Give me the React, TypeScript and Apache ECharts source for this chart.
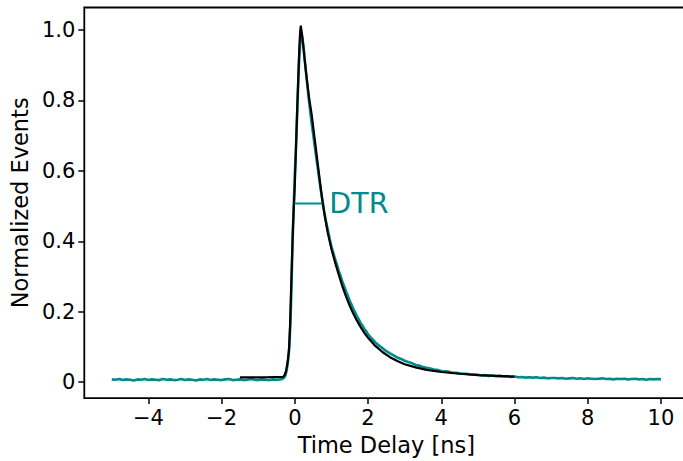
import React, { useEffect, useRef } from "react";
import * as echarts from "echarts";

// Measured timing histogram (time in ns, normalized events)
const measuredTime: number[] = [
  -5.0, -4.9, -4.8, -4.7, -4.6, -4.5, -4.4, -4.3, -4.2, -4.1, -4.0, -3.9, -3.8, -3.7, -3.6, -3.5,
  -3.4, -3.3, -3.2, -3.1, -3.0, -2.9, -2.8, -2.7, -2.6, -2.5, -2.4, -2.3, -2.2, -2.1, -2.0, -1.9,
  -1.8, -1.7, -1.6, -1.5, -1.4, -1.3, -1.2, -1.1, -1.0, -0.9, -0.8, -0.7, -0.6, -0.5, -0.4,
  -0.35, -0.3, -0.26, -0.22, -0.18, -0.15, -0.12, -0.1, -0.07, -0.05, -0.02, 0.0, 0.03, 0.06,
  0.09, 0.12, 0.15, 0.18, 0.21, 0.24, 0.27, 0.3, 0.34, 0.38, 0.42, 0.46, 0.5, 0.55, 0.6, 0.65,
  0.7, 0.75, 0.8, 0.85, 0.9, 0.95, 1.0, 1.05, 1.1, 1.15, 1.2, 1.25, 1.3, 1.35, 1.4, 1.45, 1.5,
  1.55, 1.6, 1.65, 1.7, 1.75, 1.8, 1.85, 1.9, 1.95, 2.0, 2.1, 2.2, 2.3, 2.4, 2.5, 2.6, 2.7, 2.8,
  2.9, 3.0, 3.1, 3.2, 3.3, 3.4, 3.5, 3.6, 3.7, 3.8, 3.9, 4.0, 4.1, 4.2, 4.3, 4.4, 4.5, 4.6, 4.7,
  4.8, 4.9, 5.0, 5.1, 5.2, 5.3, 5.4, 5.5, 5.6, 5.7, 5.8, 5.9, 6.0, 6.1, 6.2, 6.3, 6.4, 6.5, 6.6,
  6.7, 6.8, 6.9, 7.0, 7.1, 7.2, 7.3, 7.4, 7.5, 7.6, 7.7, 7.8, 7.9, 8.0, 8.1, 8.2, 8.3, 8.4, 8.5,
  8.6, 8.7, 8.8, 8.9, 9.0, 9.1, 9.2, 9.3, 9.4, 9.5, 9.6, 9.7, 9.8, 9.9, 10.0,
];
const measuredEvents: number[] = [
  0.008, 0.007, 0.009, 0.006, 0.008, 0.007, 0.005, 0.008, 0.007, 0.009, 0.006, 0.008, 0.007, 0.006, 0.009, 0.007,
  0.008, 0.006, 0.007, 0.009, 0.006, 0.008, 0.007, 0.005, 0.008, 0.007, 0.009, 0.006, 0.008, 0.007, 0.006, 0.008,
  0.009, 0.006, 0.007, 0.008, 0.006, 0.007, 0.009, 0.007, 0.006, 0.008, 0.007, 0.006, 0.008, 0.007, 0.008,
  0.009, 0.012, 0.018, 0.035, 0.065, 0.1, 0.17, 0.24, 0.36, 0.44, 0.53, 0.59, 0.66, 0.75,
  0.84, 0.92, 0.965, 0.985, 0.975, 0.95, 0.915, 0.885, 0.845, 0.805, 0.77, 0.735, 0.705, 0.665, 0.627, 0.59,
  0.552, 0.518, 0.486, 0.458, 0.433, 0.408, 0.385, 0.368, 0.349, 0.334, 0.316, 0.302, 0.285, 0.272, 0.257, 0.245, 0.231,
  0.22, 0.207, 0.198, 0.186, 0.178, 0.167, 0.16, 0.151, 0.145, 0.136, 0.124, 0.113, 0.104, 0.096, 0.088, 0.082, 0.076, 0.07,
  0.066, 0.061, 0.057, 0.054, 0.049, 0.047, 0.043, 0.041, 0.039, 0.036, 0.035, 0.032, 0.031, 0.03, 0.027, 0.027, 0.025, 0.024, 0.024,
  0.022, 0.022, 0.021, 0.019, 0.02, 0.018, 0.019, 0.017, 0.018, 0.016, 0.017, 0.015, 0.016, 0.014, 0.015, 0.013, 0.014, 0.013, 0.014,
  0.012, 0.013, 0.011, 0.012, 0.012, 0.011, 0.012, 0.01, 0.011, 0.012, 0.01, 0.011, 0.009, 0.011, 0.01, 0.009, 0.01, 0.011, 0.009,
  0.01, 0.008, 0.01, 0.009, 0.01, 0.008, 0.009, 0.01, 0.008, 0.009, 0.007, 0.009, 0.008, 0.009, 0.008,
];

// Fitted response curve
const fitTime: number[] = [
  -1.5, -0.8, -0.32, -0.28, -0.24, -0.2, -0.16, -0.13, -0.1, -0.06, -0.03, 0.0, 0.03, 0.065, 0.1,
  0.128, 0.15, 0.163, 0.2, 0.25, 0.3, 0.35, 0.4, 0.46, 0.5, 0.55, 0.6, 0.65, 0.7, 0.755, 0.82, 0.9,
  1.0, 1.1, 1.2, 1.3, 1.4, 1.5, 1.6, 1.7, 1.8, 1.9, 2.0, 2.2, 2.4, 2.6, 2.8, 3.0, 3.3, 3.6, 4.0,
  4.5, 5.0, 5.5, 6.0,
];
const fitEvents: number[] = [
  0.014, 0.014, 0.015, 0.02, 0.032, 0.055, 0.09, 0.16, 0.27, 0.41, 0.49, 0.56, 0.66, 0.775, 0.88,
  0.9625, 1.0, 1.012, 0.985, 0.935, 0.885, 0.84, 0.8, 0.76, 0.725, 0.684, 0.642, 0.6, 0.558, 0.514, 0.47, 0.424,
  0.378, 0.34, 0.305, 0.272, 0.243, 0.217, 0.194, 0.174, 0.156, 0.14, 0.126, 0.103, 0.085, 0.071, 0.06, 0.051, 0.042, 0.035, 0.029,
  0.024, 0.02, 0.018, 0.016,
];

// Half-maximum span marker
const dtrSpan: number[] = [-0.01, 0.75];
const dtrLevel = 0.507;

const xTicks: number[] = [-4, -2, 0, 2, 4, 6, 8, 10];
const yTicks: number[] = [0, 0.2, 0.4, 0.6, 0.8, 1.0];

const TEAL = "#008b8b";
const FONT = "DejaVu Sans";

export default function App() {
  const ref = useRef<HTMLDivElement>(null);

  useEffect(() => {
    if (!ref.current) return;
    const chart = echarts.init(ref.current, undefined, { renderer: "svg" });

    const measured = measuredTime.map((t, i) => [t, measuredEvents[i]]);
    const fit = fitTime.map((t, i) => [t, fitEvents[i]]);
    const dtr = dtrSpan.map((t) => [t, dtrLevel]);

    chart.setOption({
      animation: false,
      backgroundColor: "#ffffff",
      grid: {
        left: 81,
        top: 7.5,
        width: 607.4,
        height: 393.8,
        show: true,
        borderColor: "#000",
        borderWidth: 1.8,
        backgroundColor: "transparent",
      },
      xAxis: {
        type: "value",
        min: -5.75,
        max: 10.75,
        name: "Time Delay [ns]",
        nameLocation: "middle",
        nameGap: 33,
        nameTextStyle: { fontFamily: FONT, fontSize: 22.5, color: "#000" },
        axisLine: { show: false, onZero: false },
        splitLine: { show: false },
        axisTick: {
          show: true,
          length: 6,
          lineStyle: { color: "#000", width: 1.5 },
          customValues: xTicks,
        },
        axisLabel: {
          fontFamily: FONT,
          fontSize: 21,
          color: "#000",
          margin: 9,
          customValues: xTicks,
          formatter: (v: number) => (v < 0 ? "\u2212" + Math.abs(v) : String(v)),
        },
      },
      yAxis: {
        type: "value",
        min: -0.0451,
        max: 1.0634,
        name: "Normalized Events",
        nameLocation: "middle",
        nameGap: 39,
        nameTextStyle: { fontFamily: FONT, fontSize: 22.5, color: "#000" },
        axisLine: { show: false, onZero: false },
        splitLine: { show: false },
        axisTick: {
          show: true,
          length: 6,
          lineStyle: { color: "#000", width: 1.5 },
          customValues: yTicks,
        },
        axisLabel: {
          fontFamily: FONT,
          fontSize: 21,
          color: "#000",
          margin: 9,
          customValues: yTicks,
          formatter: (v: number) => (v === 0 ? "0" : v.toFixed(1)),
        },
      },
      series: [
        {
          name: "measured",
          type: "line",
          data: measured,
          showSymbol: false,
          lineStyle: { color: TEAL, width: 2.6 },
          z: 2,
        },
        {
          name: "fit",
          type: "line",
          data: fit,
          showSymbol: false,
          lineStyle: { color: "#000", width: 2.2 },
          z: 3,
        },
        {
          name: "DTR",
          type: "line",
          data: dtr,
          showSymbol: false,
          lineStyle: { color: TEAL, width: 2 },
          endLabel: {
            show: true,
            formatter: "DTR",
            fontFamily: FONT,
            fontSize: 28.5,
            color: TEAL,
            distance: 7,
          },
          z: 4,
        },
      ],
    });

    return () => chart.dispose();
  }, []);

  return (
    <div
      style={{
        position: "fixed",
        left: 0,
        top: 0,
        width: 683,
        height: 461,
        overflow: "hidden",
      }}
    >
      <div ref={ref} style={{ width: 690, height: 461 }} />
    </div>
  );
}
